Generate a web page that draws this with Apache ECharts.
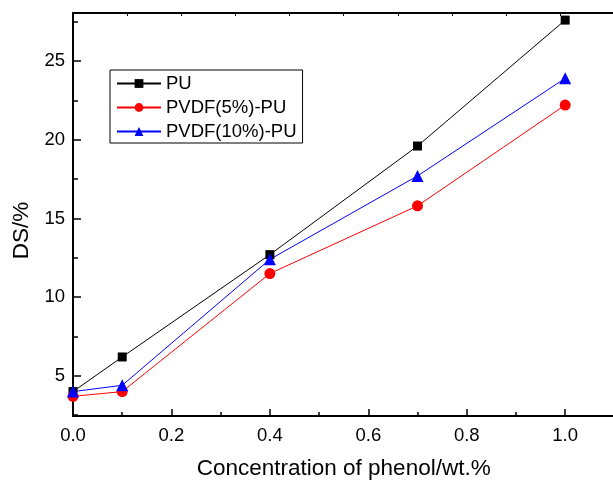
<!DOCTYPE html>
<html>
<head>
<meta charset="utf-8">
<script src="https://cdn.jsdelivr.net/npm/echarts@6/dist/echarts.min.js"></script>
<style>
    html, body { margin: 0; padding: 0; background: #fff; }
    #chartView { width: 613px; height: 481px; }
</style>
</head>
<body>
<div id="chartView"></div>
<script>
    // phenol concentration (wt.%)
    var xValues = [0, 0.1, 0.4, 0.7, 1.0];
    // DS/% per sample
    var puValues = [4.0, 6.2, 12.7, 19.6, 27.6];
    var pvdf5Values = [3.7, 4.0, 11.5, 15.8, 22.2];
    var pvdf10Values = [4.0, 4.4, 12.4, 17.7, 23.9];
    var seriesNames = ['PU', 'PVDF(5%)-PU', 'PVDF(10%)-PU'];

    var theFont = 'Liberation Sans, Arial, sans-serif';

    function toPairs(values) {
        return xValues.map(function (x, i) { return [x, values[i]]; });
    }

    var chartView = echarts.init(document.getElementById('chartView'));

    var option = {
        animation: false,
        textStyle: { fontFamily: theFont },
        grid: {
            left: 73,
            right: -1.4,
            top: 13,
            bottom: 65,
            containLabel: false,
            outerBoundsMode: 'none'
        },
        legend: {
            orient: 'vertical',
            left: 110,
            top: 70,
            borderColor: '#000',
            borderWidth: 1,
            padding: [4, 6, 2, 6],
            itemWidth: 44,
            itemHeight: 11,
            itemGap: 5,
            textStyle: { fontSize: 18.5, color: '#000', fontFamily: theFont },
            data: seriesNames
        },
        xAxis: [
            {
                type: 'value',
                min: 0,
                max: 1.1,
                interval: 0.2,
                name: 'Concentration of phenol/wt.%',
                nameLocation: 'middle',
                nameGap: 41,
                nameTextStyle: { fontSize: 22.5, color: '#000', fontFamily: theFont },
                axisLine: { onZero: false, lineStyle: { color: '#000', width: 2 } },
                axisTick: { inside: true, length: 7, lineStyle: { color: '#000', width: 1.5 } },
                minorTick: { show: true, splitNumber: 2, length: 4, lineStyle: { color: '#000', width: 1.5 } },
                splitLine: { show: false },
                axisLabel: {
                    fontSize: 18.5,
                    color: '#000',
                    margin: 10,
                    showMaxLabel: false,
                    formatter: function (v) { return v.toFixed(1); }
                }
            },
            {
                type: 'value',
                position: 'top',
                min: 0,
                max: 10,
                interval: 1,
                axisLine: { onZero: false, lineStyle: { color: '#000', width: 2 } },
                axisTick: { inside: true, length: 3, lineStyle: { color: '#000', width: 1 } },
                axisLabel: { show: false },
                splitLine: { show: false }
            }
        ],
        yAxis: [
            {
                type: 'value',
                min: 2.45,
                max: 28.05,
                splitNumber: 5,
                name: 'DS/%',
                nameLocation: 'middle',
                nameGap: 35,
                nameTextStyle: { fontSize: 22.5, color: '#000', fontFamily: theFont, padding: [0, 32, 0, 0] },
                axisLine: { onZero: false, lineStyle: { color: '#000', width: 2 } },
                axisTick: { inside: true, length: 8, lineStyle: { color: '#000', width: 1.5 } },
                minorTick: { show: true, splitNumber: 2, length: 5, lineStyle: { color: '#000', width: 1.5 } },
                splitLine: { show: false },
                axisLabel: {
                    fontSize: 18.5,
                    color: '#000',
                    margin: 8,
                    showMinLabel: false,
                    showMaxLabel: false
                }
            }
        ],
        series: [
            {
                name: seriesNames[0],
                type: 'line',
                symbol: 'rect',
                symbolSize: 9,
                color: '#000000',
                lineStyle: { width: 1 },
                data: toPairs(puValues)
            },
            {
                name: seriesNames[1],
                type: 'line',
                symbol: 'circle',
                symbolSize: 11,
                color: '#ff0000',
                lineStyle: { width: 1 },
                data: toPairs(pvdf5Values)
            },
            {
                name: seriesNames[2],
                type: 'line',
                symbol: 'triangle',
                symbolSize: 12,
                color: '#0000ff',
                lineStyle: { width: 1 },
                data: toPairs(pvdf10Values)
            }
        ]
    };

    chartView.setOption(option);
</script>
</body>
</html>
